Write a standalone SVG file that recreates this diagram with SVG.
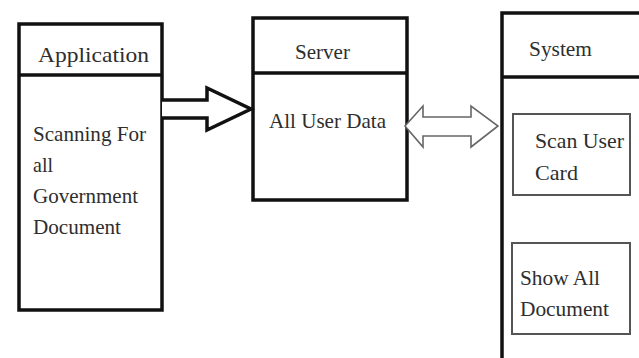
<svg xmlns="http://www.w3.org/2000/svg" width="639" height="358" viewBox="0 0 639 358">
  <style>
    .box { fill: #ffffff; stroke: #111111; stroke-width: 3.5; }
    .div { stroke: #111111; stroke-width: 3.5; }
    .sub { fill: #ffffff; stroke: #555555; stroke-width: 2; }
    .lbl { font-family: 'Liberation Serif', 'DejaVu Serif', serif; font-size: 21px; fill: #2e2e2e; }
    .big { stroke: #111111; stroke-width: 3.5; fill: #ffffff; stroke-linejoin: miter; }
    .dbl { stroke: #666666; stroke-width: 1.6; fill: #ffffff; stroke-linejoin: miter; }
  </style>
  <rect width="639" height="358" fill="#ffffff"/>

  <!-- Application -->
  <g id="application">
    <rect class="box" x="19" y="24" width="143" height="286"/>
    <line class="div" x1="19" y1="75" x2="162" y2="75"/>
    <text class="lbl" x="38" y="62" font-size="23" textLength="111" lengthAdjust="spacingAndGlyphs">Application</text>
    <text class="lbl" x="33" y="141" textLength="113" lengthAdjust="spacingAndGlyphs">Scanning For</text>
    <text class="lbl" x="33" y="172" textLength="20" lengthAdjust="spacingAndGlyphs">all</text>
    <text class="lbl" x="33" y="203" textLength="105" lengthAdjust="spacingAndGlyphs">Government</text>
    <text class="lbl" x="33" y="234" textLength="88" lengthAdjust="spacingAndGlyphs">Document</text>
  </g>

  <!-- Server -->
  <g id="server">
    <rect class="box" x="253" y="18" width="154" height="182"/>
    <line class="div" x1="253" y1="73" x2="407" y2="73"/>
    <text class="lbl" x="295" y="59" textLength="55" lengthAdjust="spacingAndGlyphs">Server</text>
    <text class="lbl" x="269" y="128" textLength="117" lengthAdjust="spacingAndGlyphs">All User Data</text>
  </g>

  <!-- System -->
  <g id="system">
    <rect class="box" x="502" y="13" width="200" height="400"/>
    <line class="div" x1="502" y1="77" x2="639" y2="77"/>
    <text class="lbl" x="529" y="56" textLength="63" lengthAdjust="spacingAndGlyphs">System</text>
  </g>

  <g id="scan-user-card">
    <rect class="sub" x="513" y="114" width="117" height="81"/>
    <text class="lbl" x="535" y="148" textLength="89" lengthAdjust="spacingAndGlyphs">Scan User</text>
    <text class="lbl" x="535" y="180" textLength="43" lengthAdjust="spacingAndGlyphs">Card</text>
  </g>

  <g id="show-all-document">
    <rect class="sub" x="512" y="243" width="118" height="91"/>
    <text class="lbl" x="520" y="285" textLength="80" lengthAdjust="spacingAndGlyphs">Show All</text>
    <text class="lbl" x="520" y="316" textLength="89" lengthAdjust="spacingAndGlyphs">Document</text>
  </g>

  <!-- Connectors -->
  <g id="connectors">
    <path class="big" d="M162,100 L207,100 L207,88 L251,109 L207,130 L207,118 L162,118"/>
    <path class="dbl" d="M405,126 L423,106 L423,117 L471,117 L471,106 L498,126 L471,147 L471,136 L423,136 L423,147 Z"/>
  </g>
</svg>
